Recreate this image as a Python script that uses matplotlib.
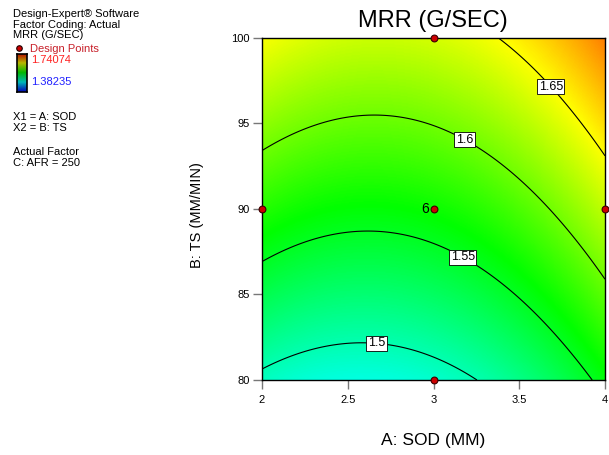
import numpy as np
import matplotlib
matplotlib.use("Agg")
import matplotlib.pyplot as plt
from matplotlib.colors import LinearSegmentedColormap
from matplotlib.lines import Line2D

plt.rcParams['font.family'] = ['Liberation Sans', 'DejaVu Sans']

# Quadratic response model for MRR in coded units
# a = (SOD - 3) / 1,  b = (TS - 90) / 10,  AFR held at 250
coef_terms = ["Intercept", "A", "B", "AB", "A^2", "B^2"]
coef_values = [1.5648, 0.0274, 0.0731, -0.004, 0.0365, -0.002]

response_min = 1.38235
response_max = 1.74074
contour_levels = [1.5, 1.55, 1.6, 1.65]

# Design points (SOD, TS) and replicate counts
design_sod = [2, 3, 3, 3, 4]
design_ts = [90, 80, 90, 100, 90]
design_reps = [1, 1, 6, 1, 1]

x_ticks = [2, 2.5, 3, 3.5, 4]
x_tick_labels = ["2", "2.5", "3", "3.5", "4"]
y_ticks = [80, 85, 90, 95, 100]
y_tick_labels = ["80", "85", "90", "95", "100"]

W, H = 609, 455
fig = plt.figure(figsize=(W / 100, H / 100), dpi=100)
fig.patch.set_facecolor("white")

def fx(px):
    return px / W

def fy(py):
    return 1 - py / H

ax = fig.add_axes([fx(262), fy(380), (605 - 262) / W, (380 - 38) / H])

cmap = LinearSegmentedColormap.from_list(
    "de_rainbow",
    [(0.0, "#0000ff"), (0.25, "#00ffff"), (0.5, "#00ff00"),
     (0.75, "#ffff00"), (1.0, "#ff0000")])

sod = np.linspace(2, 4, 300)
ts = np.linspace(80, 100, 300)
S, T = np.meshgrid(sod, ts)
a = (S - 3.0) / 1.0
b = (T - 90.0) / 10.0
b0, b1, b2, b12, b11, b22 = coef_values
Z = b0 + b1 * a + b2 * b + b12 * a * b + b11 * a ** 2 + b22 * b ** 2

ax.imshow(Z, extent=[2, 4, 80, 100], origin="lower", aspect="auto",
          cmap=cmap, vmin=response_min, vmax=response_max,
          interpolation="bilinear")

cs = ax.contour(S, T, Z, levels=contour_levels, colors="black",
                linewidths=0.8)
label_spots = [(2.67, 82.5), (3.20, 87.7), (3.20, 94.4), (3.71, 97.4)]
texts = ax.clabel(cs, levels=contour_levels, inline=False, fontsize=9,
                  fmt=lambda v: f"{v:g}", manual=label_spots)
for t in texts:
    t.set_rotation(0)
    t.set_color("black")
    t.set_bbox(dict(boxstyle="square,pad=0.12", fc="white", ec="black",
                    lw=0.6))
    t.set_zorder(4)

ax.scatter(design_sod, design_ts, s=24, c="#cc0000", edgecolors="#3a0000",
           linewidths=0.8, zorder=6, clip_on=False)
for xs, ys, n in zip(design_sod, design_ts, design_reps):
    if n > 1:
        ax.annotate(str(n), (xs, ys), xytext=(-3.5, 0),
                    textcoords="offset points", ha="right", va="center",
                    fontsize=10, zorder=6)

ax.set_xlim(2, 4)
ax.set_ylim(80, 100)
ax.set_xticks(x_ticks)
ax.set_xticklabels(x_tick_labels)
ax.set_yticks(y_ticks)
ax.set_yticklabels(y_tick_labels)
ax.tick_params(direction="out", length=6.5, width=1.0, color="#777777",
               labelsize=8, pad=2.5)
ax.tick_params(axis="x", pad=4)
for sp in ax.spines.values():
    sp.set_color("black")
    sp.set_linewidth(1.0)

fig.text(fx(433), fy(21), "MRR (G/SEC)", ha="center", va="center",
         fontsize=17)
fig.text(fx(433), fy(440), "A: SOD (MM)", ha="center", va="center",
         fontsize=12.5)
fig.text(fx(197), fy(215), "B: TS (MM/MIN)", ha="center", va="center",
         rotation=90, fontsize=10.5)

# Side panel
fs = 8.0
fig.text(fx(13), fy(14), "Design-Expert\u00ae Software", fontsize=fs,
         va="center")
fig.text(fx(13), fy(25), "Factor Coding: Actual", fontsize=fs, va="center")
fig.text(fx(13), fy(35.5), "MRR (G/SEC)", fontsize=fs, va="center")
fig.text(fx(30.5), fy(48.5), "Design Points", fontsize=fs, va="center",
         color="#c8202a")
fig.text(fx(31), fy(60), f"{response_max:.5f}", fontsize=fs, va="center",
         color="#ff2020")
fig.text(fx(31), fy(82), f"{response_min:.5f}", fontsize=fs, va="center",
         color="#2020ff")
fig.text(fx(13), fy(117), "X1 = A: SOD", fontsize=fs, va="center")
fig.text(fx(13), fy(128), "X2 = B: TS", fontsize=fs, va="center")
fig.text(fx(13), fy(152), "Actual Factor", fontsize=fs, va="center")
fig.text(fx(13), fy(163), "C: AFR = 250", fontsize=fs, va="center")

fig.add_artist(Line2D([fx(19)], [fy(47.5)], marker="o", markersize=4,
                      markerfacecolor="#cc0000", markeredgecolor="#200000",
                      markeredgewidth=0.8, linestyle="none",
                      transform=fig.transFigure))

cax = fig.add_axes([fx(17), fy(92), 10 / W, 38 / H])
grad = np.linspace(0, 1, 128).reshape(-1, 1)
dark = cmap(grad)[:, :, :3] * 0.72
cax.imshow(dark, origin="lower", aspect="auto", extent=[0, 1, 0, 1])
cax.set_xticks([])
cax.set_yticks([])
for sp in cax.spines.values():
    sp.set_color("black")
    sp.set_linewidth(1.2)

fig.savefig("out.png", dpi=100)
